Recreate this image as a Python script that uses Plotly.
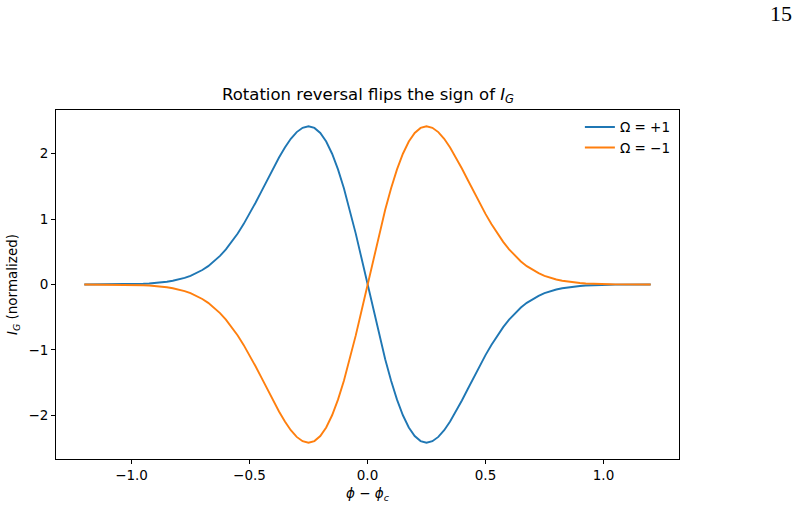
import plotly.graph_objects as go

# phi - phi_c sample positions (step 0.025 from -1.2 to 1.2)
x_vals = [round(-1.2 + 0.025 * i, 3) for i in range(97)]

# I_G (normalized) for Omega = -1
omega_minus = [
    -0.0002, -0.0003, -0.0004, -0.0007, -0.001, -0.0017, -0.0025, -0.0037, -0.005, -0.0078,
    -0.011, -0.016, -0.022, -0.031, -0.042, -0.057, -0.076, -0.101, -0.133, -0.173,
    -0.222, -0.281, -0.353, -0.438, -0.537, -0.652, -0.780, -0.924, -1.080, -1.247,
    -1.421, -1.599, -1.775, -1.943, -2.096, -2.228, -2.331, -2.397, -2.420, -2.395,
    -2.318, -2.186, -2.000, -1.761, -1.473, -1.144, -0.782, -0.397,
    0.0,
    0.397, 0.782, 1.144, 1.473, 1.761, 2.000, 2.186, 2.318, 2.395, 2.420,
    2.397, 2.331, 2.228, 2.096, 1.943, 1.775, 1.599, 1.421, 1.247, 1.080,
    0.924, 0.780, 0.652, 0.537, 0.438, 0.353, 0.281, 0.222, 0.173, 0.133,
    0.101, 0.076, 0.057, 0.042, 0.031, 0.022, 0.016, 0.011, 0.0078, 0.005,
    0.0037, 0.0025, 0.0017, 0.001, 0.0007, 0.0004, 0.0003, 0.0002]

# I_G (normalized) for Omega = +1
omega_plus = [
    0.0002, 0.0003, 0.0004, 0.0007, 0.001, 0.0017, 0.0025, 0.0037, 0.005, 0.0078,
    0.011, 0.016, 0.022, 0.031, 0.042, 0.057, 0.076, 0.101, 0.133, 0.173,
    0.222, 0.281, 0.353, 0.438, 0.537, 0.652, 0.780, 0.924, 1.080, 1.247,
    1.421, 1.599, 1.775, 1.943, 2.096, 2.228, 2.331, 2.397, 2.420, 2.395,
    2.318, 2.186, 2.000, 1.761, 1.473, 1.144, 0.782, 0.397,
    0.0,
    -0.397, -0.782, -1.144, -1.473, -1.761, -2.000, -2.186, -2.318, -2.395, -2.420,
    -2.397, -2.331, -2.228, -2.096, -1.943, -1.775, -1.599, -1.421, -1.247, -1.080,
    -0.924, -0.780, -0.652, -0.537, -0.438, -0.353, -0.281, -0.222, -0.173, -0.133,
    -0.101, -0.076, -0.057, -0.042, -0.031, -0.022, -0.016, -0.011, -0.0078, -0.005,
    -0.0037, -0.0025, -0.0017, -0.001, -0.0007, -0.0004, -0.0003, -0.0002]

series_names = ["Ω = +1", "Ω = −1"]
x_ticks = [-1.0, -0.5, 0.0, 0.5, 1.0]
y_ticks = [-2, -1, 0, 1, 2]

FONT = "DejaVu Sans"

fig = go.Figure()
fig.add_trace(go.Scatter(x=x_vals, y=omega_plus, mode="lines", name=series_names[0],
                         line=dict(color="#1f77b4", width=1.9)))
fig.add_trace(go.Scatter(x=x_vals, y=omega_minus, mode="lines", name=series_names[1],
                         line=dict(color="#ff7f0e", width=1.9)))

axis_common = dict(showline=True, linecolor="black", linewidth=1, mirror=True,
                   ticks="outside", ticklen=4, tickcolor="black", tickwidth=1,
                   showgrid=False, zeroline=False,
                   tickfont=dict(family=FONT, size=13.5, color="black"))

fig.update_xaxes(range=[-1.32, 1.32], tickvals=x_ticks, tickformat=".1f",
                 title=dict(text="<i>ϕ</i> − <i>ϕ<sub>c</sub></i>",
                            font=dict(family=FONT, size=13.5, color="black"), standoff=6),
                 **axis_common)
fig.update_yaxes(range=[-2.669, 2.669], tickvals=y_ticks,
                 title=dict(text="<i>I<sub>G</sub></i> (normalized)",
                            font=dict(family=FONT, size=13.5, color="black"), standoff=7),
                 **axis_common)

fig.update_layout(
    width=798, height=511,
    margin=dict(l=55, r=119, t=110, b=50),
    paper_bgcolor="white", plot_bgcolor="white",
    showlegend=True,
    legend=dict(x=0.995, y=0.995, xanchor="right", yanchor="top", bgcolor="rgba(0,0,0,0)",
                font=dict(family=FONT, size=13.5, color="black"), tracegroupgap=0),
    annotations=[
        dict(text="Rotation reversal flips the sign of <i>I<sub>G</sub></i>", x=0.5, y=1.0,
             xref="paper", yref="paper", xanchor="center", yanchor="bottom", yshift=2,
             showarrow=False, font=dict(family=FONT, size=16.5, color="black")),
        dict(text="15", x=(794 - 55) / 624, y=(461 + 2) / 351, xref="paper", yref="paper",
             showarrow=False, xanchor="right", yanchor="top",
             font=dict(family="Liberation Serif", size=22, color="black")),
    ],
)

fig.write_html("out.html")
